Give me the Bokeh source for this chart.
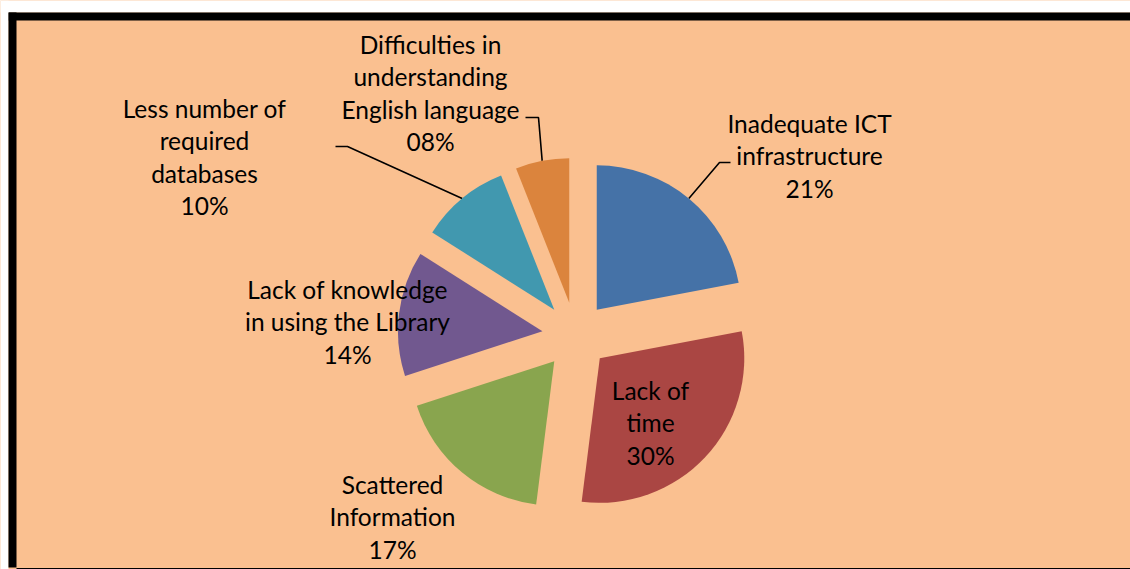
import math
from bokeh.plotting import figure
from bokeh.models import Range1d, BoxAnnotation, ColumnDataSource
from bokeh.core.properties import value
from bokeh.embed import file_html
from bokeh.resources import INLINE

# ---- data ----
categories = ["Inadequate ICT infrastructure", "Lack of time", "Scattered Information",
              "Lack of knowledge in using the Library", "Less number of required databases",
              "Difficulties in understanding English language"]
# slice sizes as drawn in the picture (percent of the pie)
values = [22, 30, 18, 14, 10, 6]
# percentage texts as printed in the picture's labels
pct_labels = ["21%", "30%", "17%", "14%", "10%", "08%"]
label_lines = [["Inadequate ICT", "infrastructure"],
               ["Lack of", "time"],
               ["Scattered", "Information"],
               ["Lack of knowledge", "in using the Library"],
               ["Less number of", "required", "databases"],
               ["Difficulties in", "understanding", "English language"]]
colors = ["#4572A7", "#AA4643", "#89A54E", "#71588F", "#4198AF", "#DB843D"]

# ---- layout (pixel coordinates of the picture, y down) ----
W, H = 1130, 569
CX, CY = 575, 335          # pie centre
R = 144.5                  # radius
EXPLODE = 33.3             # explosion offset
FONT = value("Lato")
FSIZE = "24.5px"
LINE_H = 32.3
# first-line position / centre x for each label
label_pos = [(809, 123), (650, 390), (392, 484), (347, 289), (204, 108), (430, 44)]
# leader lines: elbow points (anchor is the slice's arc mid-point) or None
leaders = [[(719, 162), (730, 162)],
           None, None, None,
           [(347, 146), (335, 146)],
           [(538, 117), (525, 117)]]

BG = "#FAC090"

p = figure(width=W, height=H, output_backend="svg", toolbar_location=None,
           x_range=Range1d(0, W), y_range=Range1d(-H, 0),
           min_border=0, background_fill_color=BG, border_fill_color="white",
           outline_line_color=None)
p.axis.visible = False
p.grid.visible = False

# frame decoration
p.add_layout(BoxAnnotation(left=0, right=W, top=0, bottom=-12, fill_color="white",
                           fill_alpha=1, line_color=None))
p.add_layout(BoxAnnotation(left=8, right=W, top=-12, bottom=-20, fill_color="black",
                           fill_alpha=1, line_color=None))
p.add_layout(BoxAnnotation(left=0, right=8, top=0, bottom=-H, fill_color="white",
                           fill_alpha=1, line_color=None))
p.add_layout(BoxAnnotation(left=8, right=16, top=-12, bottom=-567, fill_color="black",
                           fill_alpha=1, line_color=None))
p.add_layout(BoxAnnotation(left=16, right=W, top=-567.5, bottom=-H, fill_color="black",
                           fill_alpha=1, line_color=None))

total = float(sum(values))
cum = 0.0
wx, wy, ws, we = [], [], [], []
for i, v in enumerate(values):
    a0 = 360 * cum / total
    a1 = 360 * (cum + v) / total
    mid = math.radians((a0 + a1) / 2)
    ax = CX + EXPLODE * math.sin(mid)
    ay = -CY + EXPLODE * math.cos(mid)
    wx.append(ax); wy.append(ay)
    ws.append(math.radians(90 - a0)); we.append(math.radians(90 - a1))
    if leaders[i] is not None:
        px = ax + R * math.sin(mid)
        py = ay + R * math.cos(mid)
        xs = [px] + [e[0] for e in leaders[i]]
        ys = [py] + [-e[1] for e in leaders[i]]
        p.line(xs, ys, line_color="black", line_width=1.6)
    cum += v

src = ColumnDataSource(dict(x=wx, y=wy, start=ws, end=we, color=colors, cat=categories))
p.wedge(x="x", y="y", radius=R, start_angle="start", end_angle="end", direction="clock",
        fill_color="color", line_color=None, source=src)

tx, ty, tt = [], [], []
for i, lines in enumerate(label_lines):
    x0, y0 = label_pos[i]
    for j, s in enumerate(lines + [pct_labels[i]]):
        tx.append(x0); ty.append(-(y0 + j * LINE_H)); tt.append(s)
p.text(x=tx, y=ty, text=tt, text_align="center", text_baseline="alphabetic",
       text_font=FONT, text_font_size=FSIZE, text_color="black")

open("out.html", "w").write(file_html(p, INLINE))
